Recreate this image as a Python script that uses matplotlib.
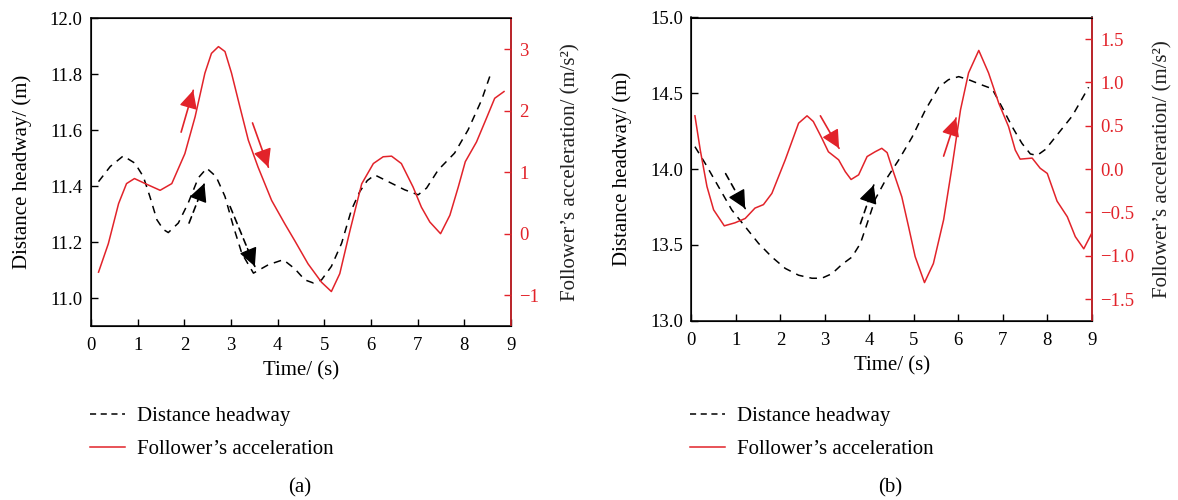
import matplotlib
matplotlib.use('Agg')
import matplotlib.pyplot as plt
from matplotlib.lines import Line2D
from matplotlib.ticker import FuncFormatter

RED = '#e2232a'

# panel (a)
t_head_a = [0.16, 0.41, 0.69, 0.94, 1.12, 1.26, 1.41, 1.55, 1.655, 1.87, 2.08, 2.30, 2.48,
            2.68, 2.87, 3.05, 3.23, 3.48, 3.80, 4.12, 4.37, 4.58, 4.76, 4.94, 5.15, 5.37,
            5.58, 5.76, 5.92, 6.08, 6.37, 6.72, 7.01, 7.19, 7.44, 7.79, 8.08, 8.37, 8.58]
head_a = [11.416, 11.47, 11.508, 11.482, 11.434, 11.363, 11.28, 11.245, 11.234, 11.268,
          11.339, 11.43, 11.464, 11.434, 11.363, 11.256, 11.16, 11.089, 11.119, 11.137,
          11.104, 11.065, 11.054, 11.065, 11.113, 11.196, 11.315, 11.381, 11.42, 11.44,
          11.416, 11.387, 11.369, 11.393, 11.458, 11.518, 11.601, 11.708, 11.809]
t_acc_a = [0.16, 0.37, 0.59, 0.76, 0.93, 1.16, 1.48, 1.73, 2.01, 2.23, 2.44, 2.58, 2.73,
           2.87, 3.01, 3.19, 3.37, 3.58, 3.87, 4.15, 4.37, 4.65, 4.94, 5.15, 5.33, 5.55,
           5.80, 6.05, 6.26, 6.44, 6.65, 6.90, 7.08, 7.26, 7.49, 7.69, 7.87, 8.02, 8.26,
           8.47, 8.65, 8.85]
acc_a = [-0.625, -0.163, 0.489, 0.814, 0.896, 0.814, 0.705, 0.814, 1.30, 1.90, 2.61, 2.93,
         3.04, 2.96, 2.61, 2.06, 1.52, 1.08, 0.54, 0.163, -0.12, -0.49, -0.79, -0.94, -0.65,
         0.054, 0.81, 1.14, 1.25, 1.26, 1.14, 0.76, 0.43, 0.19, 0.0, 0.30, 0.76, 1.17, 1.49,
         1.87, 2.20, 2.31]

# panel (b)
t_head_b = [0.08, 0.31, 0.61, 0.91, 1.21, 1.51, 1.81, 2.11, 2.41, 2.71, 2.93, 3.16, 3.38,
            3.61, 3.80, 3.95, 4.13, 4.36, 4.66, 4.96, 5.26, 5.56, 5.78, 6.01, 6.23, 6.53,
            6.76, 6.98, 7.21, 7.43, 7.62, 7.77, 7.96, 8.26, 8.56, 8.93]
head_b = [14.148, 14.038, 13.884, 13.73, 13.62, 13.51, 13.42, 13.345, 13.30, 13.28, 13.28,
          13.31, 13.37, 13.42, 13.51, 13.64, 13.80, 13.925, 14.06, 14.21, 14.39, 14.54,
          14.59, 14.61, 14.59, 14.555, 14.53, 14.41, 14.28, 14.17, 14.10, 14.09, 14.13,
          14.24, 14.35, 14.54]
t_acc_b = [0.08, 0.20, 0.35, 0.50, 0.74, 0.98, 1.21, 1.43, 1.62, 1.81, 2.11, 2.41, 2.60,
           2.74, 2.93, 3.08, 3.31, 3.46, 3.59, 3.76, 3.95, 4.13, 4.28, 4.40, 4.52, 4.73,
           4.88, 5.03, 5.24, 5.44, 5.67, 5.86, 6.05, 6.23, 6.46, 6.68, 6.91, 7.13, 7.28,
           7.39, 7.66, 7.84, 8.00, 8.22, 8.45, 8.63, 8.82, 9.0]
acc_b = [0.615, 0.22, -0.20, -0.47, -0.655, -0.62, -0.57, -0.45, -0.41, -0.28, 0.107, 0.53,
         0.615, 0.55, 0.36, 0.20, 0.107, -0.03, -0.12, -0.066, 0.145, 0.20, 0.24, 0.19, 0.0,
         -0.32, -0.66, -1.01, -1.31, -1.09, -0.585, 0.03, 0.685, 1.11, 1.37, 1.11, 0.76,
         0.49, 0.22, 0.115, 0.127, 0.01, -0.05, -0.37, -0.55, -0.78, -0.92, -0.74]

x_ticks = list(range(10))
head_ticks_a = [11.0, 11.2, 11.4, 11.6, 11.8, 12.0]
acc_ticks_a = [-1, 0, 1, 2, 3]
head_ticks_b = [13.0, 13.5, 14.0, 14.5, 15.0]
acc_ticks_b = [-1.5, -1.0, -0.5, 0.0, 0.5, 1.0, 1.5]

plt.rcParams['font.family'] = ['Liberation Serif', 'DejaVu Serif']
plt.rcParams['font.size'] = 13.5
LABEL_SIZE = 15


def minus_fmt(fmt):
    return FuncFormatter(lambda v, p: (fmt % v).replace('-', '\u2212'))


def arrow(ax, start, end, color, dashed):
    # shaft (dashed or solid) plus a solid filled head at the end
    ax.annotate('', xy=end, xytext=start,
                arrowprops=dict(arrowstyle='-', color=color, lw=1.2,
                                linestyle=(0, (4, 3)) if dashed else '-',
                                shrinkA=0, shrinkB=0))
    near = (start[0] + 0.7 * (end[0] - start[0]), start[1] + 0.7 * (end[1] - start[1]))
    ax.annotate('', xy=end, xytext=near,
                arrowprops=dict(arrowstyle='-|>,head_length=0.8,head_width=0.4',
                                mutation_scale=14, color=color, lw=1.0,
                                shrinkA=0, shrinkB=0))


def panel(fig, rect, th, h, ta, a, hlim, alim, hticks, aticks, hfmt, afmt):
    ax = fig.add_axes(rect)
    ax.plot(th, h, color='black', lw=1.1, dashes=(5, 4))
    ax.set_xlim(0, 9)
    ax.set_ylim(*hlim)
    ax.set_xticks(x_ticks)
    ax.set_yticks(hticks)
    ax.yaxis.set_major_formatter(minus_fmt(hfmt))
    ax.tick_params(direction='in', length=5, width=1, pad=6)
    ax.tick_params(axis='x', pad=8)
    ax.set_xlabel('Time/ (s)', labelpad=5, fontsize=LABEL_SIZE)
    ax.set_ylabel('Distance headway/ (m)', labelpad=13, fontsize=LABEL_SIZE)
    for s in ax.spines.values():
        s.set_linewidth(1.1)

    ax2 = ax.twinx()
    ax2.plot(ta, a, color=RED, lw=1.1)
    ax2.set_ylim(*alim)
    ax2.set_yticks(aticks)
    ax2.yaxis.set_major_formatter(minus_fmt(afmt))
    ax2.tick_params(direction='in', length=5, width=1, colors=RED, labelcolor=RED, pad=6)
    ax2.spines['right'].set_color(RED)
    ax2.spines['right'].set_linewidth(1.1)
    return ax, ax2


fig = plt.figure(figsize=(11.78, 5.0), dpi=100)

axa, axa2 = panel(fig, [0.0773, 0.348, 0.3565, 0.6154], t_head_a, head_a, t_acc_a, acc_a,
                  (10.9, 12.0), (-1.5, 3.5), head_ticks_a, acc_ticks_a, '%.1f', '%d')
axa2.set_ylabel('Follower\u2019s acceleration/ (m/s\u00b2)', color='#222222',
                labelpad=16, fontsize=LABEL_SIZE)
arrow(axa2, (1.93, 1.65), (2.19, 2.33), RED, False)
arrow(axa2, (3.46, 1.80), (3.80, 1.08), RED, False)
arrow(axa, (2.10, 11.268), (2.43, 11.41), 'black', True)
arrow(axa, (2.98, 11.327), (3.51, 11.113), 'black', True)

axb, axb2 = panel(fig, [0.5869, 0.3586, 0.3399, 0.6064], t_head_b, head_b, t_acc_b, acc_b,
                  (13.0, 15.0), (-1.75, 1.75), head_ticks_b, acc_ticks_b, '%.1f', '%.1f')
axb2.set_ylabel('Follower\u2019s acceleration/ (m/s\u00b2)', color='#222222',
                labelpad=14, fontsize=LABEL_SIZE)
arrow(axb, (0.77, 13.97), (1.21, 13.74), 'black', True)
arrow(axb, (3.80, 13.64), (4.10, 13.895), 'black', True)
arrow(axb2, (2.90, 0.615), (3.32, 0.24), RED, False)
arrow(axb2, (5.67, 0.15), (5.95, 0.59), RED, False)

handles = [Line2D([], [], color='black', lw=1.1, dashes=(4, 3)),
           Line2D([], [], color=RED, lw=1.1)]
labels = ['Distance headway', 'Follower\u2019s acceleration']
for x0 in (0.0693, 0.5787):
    fig.legend(handles, labels, loc='upper left', bbox_to_anchor=(x0, 0.203),
               frameon=False, handlelength=1.7, handletextpad=0.55, labelspacing=0.62,
               borderaxespad=0, fontsize=LABEL_SIZE)

fig.text(0.2547, 0.024, '(a)', ha='center', va='center', fontsize=LABEL_SIZE)
fig.text(0.7555, 0.024, '(b)', ha='center', va='center', fontsize=LABEL_SIZE)

fig.savefig('out.png', dpi=100)
